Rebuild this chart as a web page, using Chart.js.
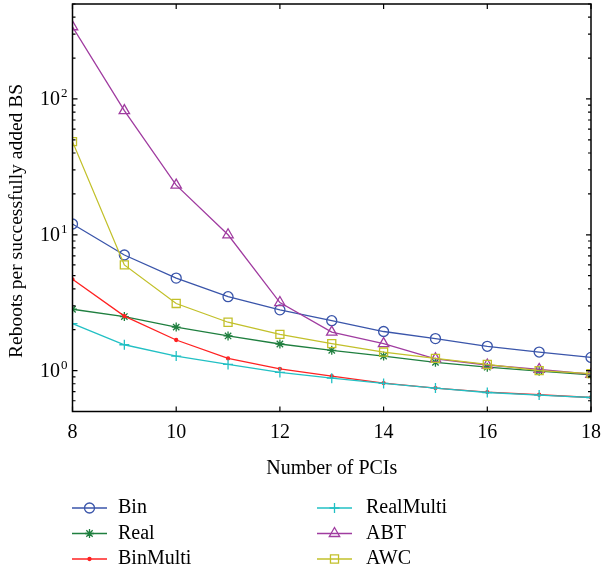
<!DOCTYPE html>
<html>
<head>
<meta charset="utf-8">
<script src="https://cdn.jsdelivr.net/npm/chart.js@4/dist/chart.umd.min.js"></script>
<style>
  body { margin: 0; background: #fff; }
</style>
</head>
<body>
<canvas id="myChart" width="603" height="573"></canvas>
<script>
// values
const pcis = [8, 9, 10, 11, 12, 13, 14, 15, 16, 17, 18];
const bin = [12.0, 7.1, 4.8, 3.5, 2.8, 2.33, 1.94, 1.72, 1.51, 1.37, 1.25];
const real = [2.83, 2.5, 2.09, 1.8, 1.57, 1.41, 1.28, 1.15, 1.06, 0.99, 0.93];
const binMulti = [4.7, 2.52, 1.68, 1.23, 1.03, 0.91, 0.81, 0.744, 0.695, 0.664, 0.634];
const realMulti = [2.22, 1.55, 1.28, 1.11, 0.97, 0.88, 0.805, 0.744, 0.69, 0.66, 0.634];
const abt = [340, 82, 23.2, 10, 3.17, 1.92, 1.58, 1.22, 1.1, 1.02, 0.94];
const awc = [48.5, 6.0, 3.12, 2.27, 1.85, 1.58, 1.37, 1.23, 1.11, 1.0, 0.95];
const xTicks = [8, 10, 12, 14, 16, 18];
const yDecades = [1, 10, 100];

const FONT = "'Liberation Serif', 'Times New Roman', serif";

function series(label, data, color, style, radius, fill) {
    return {
        label: label,
        data: pcis.map((x, i) => ({ x: x, y: data[i] })),
        borderColor: color,
        backgroundColor: fill ? color : 'rgba(0,0,0,0)',
        borderWidth: 1.3,
        pointStyle: style,
        pointRadius: radius,
        pointBorderWidth: 1.3,
        pointBorderColor: color,
        pointBackgroundColor: fill ? color : 'rgba(0,0,0,0)',
        tension: 0
    };
}

const datasets = [
    series('Bin', bin, '#3a55aa', 'circle', 5, false),
    series('Real', real, '#1f7f3f', 'star', 4.5, false),
    series('BinMulti', binMulti, '#ff2222', 'circle', 1.5, true),
    series('RealMulti', realMulti, '#22c0c4', 'cross', 5, false),
    series('ABT', abt, '#a03ca0', 'triangle', 6, false),
    series('AWC', awc, '#c2c02a', 'rect', 5.7, false)
];
datasets.forEach((d, i) => { d.order = datasets.length - i; });

// frame, inward ticks, y labels, y title and legend
const framePlugin = {
    id: 'frame',
    afterLayout(chart) {
        // pull the plot top up to where the figure has it
        const ys = chart.scales.y;
        const top = 4;
        ys.top = top;
        ys.height = ys.bottom - top;
        chart.chartArea.top = top;
        chart.chartArea.height = chart.chartArea.bottom - top;
        ys.configure();
    },
    afterDraw(chart) {
        const ctx = chart.ctx;
        const a = chart.chartArea;
        const xs = chart.scales.x;
        const ys = chart.scales.y;
        ctx.save();
        ctx.strokeStyle = '#000';
        ctx.lineWidth = 1.5;
        ctx.strokeRect(a.left, a.top, a.right - a.left, a.bottom - a.top);

        ctx.lineWidth = 1.2;
        ctx.beginPath();
        xTicks.forEach(v => {
            const px = xs.getPixelForValue(v);
            ctx.moveTo(px, a.bottom); ctx.lineTo(px, a.bottom - 5);
            ctx.moveTo(px, a.top); ctx.lineTo(px, a.top + 5);
        });
        const minors = [];
        [0.1, 1, 10, 100].forEach(d => {
            for (let m = 1; m <= 9; m++) minors.push({ v: d * m, major: m === 1 });
        });
        minors.forEach(t => {
            if (t.v < 0.5 || t.v > 500) return;
            const py = ys.getPixelForValue(t.v);
            const len = t.major ? 5 : 3;
            ctx.moveTo(a.left, py); ctx.lineTo(a.left + len, py);
            ctx.moveTo(a.right, py); ctx.lineTo(a.right - len, py);
        });
        ctx.stroke();

        // y tick labels: 10^n
        ctx.fillStyle = '#000';
        ctx.textBaseline = 'middle';
        yDecades.forEach(v => {
            const py = ys.getPixelForValue(v);
            const exp = String(Math.round(Math.log10(v)));
            ctx.font = '13px ' + FONT;
            const ew = ctx.measureText(exp).width;
            ctx.textAlign = 'left';
            const ex = a.left - 5 - ew;
            ctx.fillText(exp, ex, py - 5);
            ctx.font = '20px ' + FONT;
            ctx.textAlign = 'right';
            ctx.fillText('10', ex - 1, py + 1);
        });

        // y axis title
        ctx.save();
        ctx.translate(17, 221);
        ctx.rotate(-Math.PI / 2);
        ctx.font = '19.5px ' + FONT;
        ctx.textAlign = 'center';
        ctx.textBaseline = 'middle';
        ctx.fillText('Reboots per successfully added BS', 0, 0);
        ctx.restore();

        // legend, two columns
        const cols = [{ x1: 72, x2: 107, tx: 118 }, { x1: 317, x2: 352, tx: 366 }];
        const rows = [508, 533.5, 559];
        chart.data.datasets.forEach((d, i) => {
            const c = cols[Math.floor(i / 3)];
            const y = rows[i % 3];
            ctx.strokeStyle = d.borderColor;
            ctx.lineWidth = d.borderWidth;
            ctx.beginPath();
            ctx.moveTo(c.x1, y); ctx.lineTo(c.x2, y);
            ctx.stroke();
            ctx.fillStyle = d.pointBackgroundColor;
            Chart.helpers.drawPoint(ctx, {
                pointStyle: d.pointStyle,
                radius: d.pointRadius,
                rotation: 0,
                borderWidth: d.pointBorderWidth
            }, (c.x1 + c.x2) / 2, y);
            ctx.fillStyle = '#000';
            ctx.font = '20px ' + FONT;
            ctx.textAlign = 'left';
            ctx.textBaseline = 'middle';
            ctx.fillText(d.label, c.tx, y);
        });
        ctx.restore();
    }
};

const ctx = document.getElementById('myChart').getContext('2d');
const myChart = new Chart(ctx, {
    type: 'line',
    data: { datasets: datasets },
    options: {
        responsive: false,
        animation: false,
        layout: { padding: { left: 0, right: 12, top: 4, bottom: 91.5 } },
        plugins: {
            legend: { display: false },
            tooltip: { enabled: false }
        },
        scales: {
            x: {
                type: 'linear',
                min: 8,
                max: 18,
                afterFit: s => { s.height = 70; },
                afterBuildTicks: s => { s.ticks = xTicks.map(v => ({ value: v })); },
                grid: { display: false },
                border: { display: false },
                ticks: {
                    padding: 1,
                    color: '#000',
                    font: { family: FONT, size: 20 }
                },
                title: {
                    display: true,
                    text: 'Number of PCIs',
                    color: '#000',
                    padding: { top: 4, bottom: 1 },
                    font: { family: FONT, size: 20 }
                }
            },
            y: {
                type: 'logarithmic',
                min: 0.5,
                max: 500,
                afterFit: s => { s.width = 72.5; },
                grid: { display: false },
                border: { display: false },
                ticks: { display: false }
            }
        }
    },
    plugins: [framePlugin]
});
</script>
</body>
</html>
